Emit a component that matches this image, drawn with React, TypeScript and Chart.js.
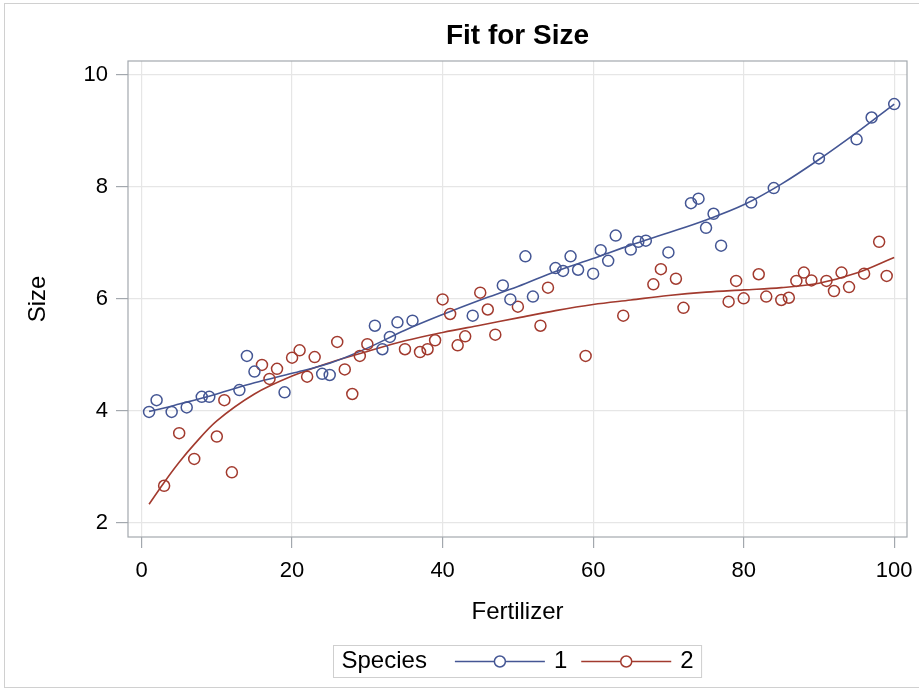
import React, { useEffect, useRef } from 'react';
import { Chart, registerables } from 'chart.js';

Chart.register(...registerables);

const FONT = '"Liberation Sans", Arial, Helvetica, sans-serif';
const BLUE = '#445694';
const RED = '#A23A2E';

const chartTitle = 'Fit for Size';
const xTitle = 'Fertilizer';
const yTitle = 'Size';
const legendTitle = 'Species';
const seriesNames = ['1', '2'];

const xTicks = [0, 20, 40, 60, 80, 100];
const yTicks = [2, 4, 6, 8, 10];

// Species 1 observations
const blueX = [1, 2, 4, 6, 8, 9, 13, 14, 15, 19, 24, 25, 31, 32, 33, 34, 36, 44, 48, 49, 51, 52, 55, 56, 57, 58, 60, 61, 62, 63, 65, 66, 67, 70, 73, 74, 75, 76, 77, 81, 84, 90, 95, 97, 100];
const blueY = [3.98, 4.19, 3.98, 4.06, 4.25, 4.25, 4.37, 4.98, 4.70, 4.33, 4.66, 4.64, 5.52, 5.10, 5.32, 5.58, 5.61, 5.70, 6.24, 5.99, 6.76, 6.04, 6.55, 6.50, 6.76, 6.52, 6.45, 6.87, 6.68, 7.13, 6.88, 7.02, 7.04, 6.83, 7.71, 7.79, 7.27, 7.52, 6.95, 7.72, 7.98, 8.51, 8.85, 9.24, 9.48];

// Species 2 observations
const redX = [3, 5, 7, 10, 11, 12, 16, 17, 18, 20, 21, 22, 23, 26, 27, 28, 29, 30, 35, 37, 38, 39, 40, 41, 42, 43, 45, 46, 47, 50, 53, 54, 59, 64, 68, 69, 71, 72, 78, 79, 80, 82, 83, 85, 86, 87, 88, 89, 91, 92, 93, 94, 96, 98, 99];
const redY = [2.66, 3.60, 3.14, 3.54, 4.19, 2.90, 4.82, 4.57, 4.75, 4.95, 5.08, 4.61, 4.96, 5.23, 4.74, 4.30, 4.98, 5.19, 5.10, 5.05, 5.10, 5.26, 5.99, 5.73, 5.17, 5.33, 6.11, 5.81, 5.36, 5.86, 5.52, 6.20, 4.98, 5.70, 6.26, 6.53, 6.36, 5.84, 5.95, 6.32, 6.01, 6.44, 6.04, 5.98, 6.02, 6.32, 6.47, 6.33, 6.32, 6.14, 6.47, 6.21, 6.45, 7.02, 6.41];

// Fitted curves
const fitX = [1, 3, 5, 7, 10, 15, 20, 25, 30, 35, 40, 45, 50, 55, 60, 65, 70, 75, 80, 85, 90, 95, 100];
const blueFit = [3.99, 4.05, 4.12, 4.19, 4.30, 4.50, 4.67, 4.85, 5.12, 5.44, 5.72, 5.98, 6.22, 6.49, 6.72, 6.96, 7.18, 7.41, 7.68, 8.05, 8.49, 8.97, 9.48];
const redFit = [2.33, 2.72, 3.08, 3.40, 3.82, 4.30, 4.62, 4.86, 5.06, 5.25, 5.40, 5.53, 5.66, 5.79, 5.90, 5.98, 6.06, 6.12, 6.16, 6.20, 6.28, 6.46, 6.74];

const toPts = (xs: number[], ys: number[]) => xs.map((x, i) => ({ x, y: ys[i] }));

const framePlugin = {
  id: 'framePlugin',
  afterDatasetsDraw(chart: any) {
    const { ctx, chartArea: ca } = chart;
    ctx.save();
    ctx.strokeStyle = '#A3A8AE';
    ctx.lineWidth = 1.2;
    ctx.strokeRect(ca.left, ca.top, ca.right - ca.left, ca.bottom - ca.top);
    ctx.restore();
  },
  afterDraw(chart: any) {
    const { ctx, chartArea: ca } = chart;
    ctx.save();
    // outer border
    ctx.strokeStyle = '#D0D0D0';
    ctx.lineWidth = 1;
    ctx.strokeRect(4.5, 3.5, 960, 684);

    const cx = (ca.left + ca.right) / 2;

    // title, centred over the plot area
    ctx.font = `bold 28px ${FONT}`;
    ctx.fillStyle = '#000';
    ctx.textAlign = 'center';
    ctx.textBaseline = 'middle';
    ctx.fillText(chartTitle, cx, ca.top - 25);

    // legend
    ctx.textAlign = 'left';
    ctx.font = `24px ${FONT}`;
    const pad = 8, gapTitle = 28, lineLen = 90, gapText = 9, gapItem = 14;
    const wTitle = ctx.measureText(legendTitle).width;
    const colors = [BLUE, RED];
    let total = pad + wTitle + pad;
    seriesNames.forEach((n, i) => {
      total += (i === 0 ? gapTitle : gapItem) + lineLen + gapText + ctx.measureText(n).width;
    });
    const left = Math.round(cx - total / 2) + 0.5;
    const top = ca.bottom + 108.5;
    const h = 32;
    const cy = top + h / 2;
    ctx.strokeStyle = '#CFCFCF';
    ctx.lineWidth = 1;
    ctx.strokeRect(left, top, total, h);
    let x = left + pad;
    ctx.fillText(legendTitle, x, cy);
    x += wTitle;
    seriesNames.forEach((n, i) => {
      x += i === 0 ? gapTitle : gapItem;
      ctx.strokeStyle = colors[i];
      ctx.lineWidth = 1.5;
      ctx.beginPath();
      ctx.moveTo(x, cy);
      ctx.lineTo(x + lineLen, cy);
      ctx.stroke();
      ctx.beginPath();
      ctx.fillStyle = '#fff';
      ctx.arc(x + lineLen / 2, cy, 5.5, 0, Math.PI * 2);
      ctx.fill();
      ctx.stroke();
      x += lineLen + gapText;
      ctx.fillStyle = '#000';
      ctx.fillText(n, x, cy);
      x += ctx.measureText(n).width;
    });
    ctx.restore();
  },
};

export default function App() {
  const ref = useRef<HTMLCanvasElement>(null);
  useEffect(() => {
    if (!ref.current) return;
    const pointDs = (label: string, xs: number[], ys: number[], color: string) => ({
      label,
      data: toPts(xs, ys),
      showLine: false,
      pointRadius: 5.5,
      pointHoverRadius: 5.5,
      pointBorderWidth: 1.5,
      borderColor: color,
      backgroundColor: 'rgba(0,0,0,0)',
      pointBackgroundColor: 'rgba(0,0,0,0)',
      pointBorderColor: color,
      order: 1,
    });
    const fitDs = (label: string, ys: number[], color: string) => ({
      label,
      data: toPts(fitX, ys),
      showLine: true,
      pointRadius: 0,
      borderColor: color,
      borderWidth: 1.6,
      tension: 0.35,
      fill: false,
      order: 2,
    });
    const chart = new Chart(ref.current, {
      type: 'scatter',
      data: {
        datasets: [
          fitDs('fit1', blueFit, BLUE),
          fitDs('fit2', redFit, RED),
          pointDs(seriesNames[0], blueX, blueY, BLUE),
          pointDs(seriesNames[1], redX, redY, RED),
        ] as any,
      },
      options: {
        animation: false,
        responsive: false,
        maintainAspectRatio: false,
        layout: { padding: { left: 0, right: 12, top: 61, bottom: 63 } },
        plugins: {
          legend: { display: false },
          tooltip: { enabled: false },
          title: { display: false },
        },
        scales: {
          x: {
            type: 'linear',
            min: -1.8,
            max: 101.7,
            afterBuildTicks: (s: any) => { s.ticks = xTicks.map((v) => ({ value: v })); },
            afterFit: (s: any) => { s.height = 91; s.paddingLeft = 0; s.paddingRight = 0; },
            grid: { color: '#E6E6E6', lineWidth: 1.2, tickColor: '#A3A8AE', tickLength: 11, drawTicks: true },
            border: { display: false },
            ticks: { color: '#000', font: { family: FONT, size: 22 }, padding: 10, maxRotation: 0, autoSkip: false },
            title: { display: true, text: xTitle, color: '#000', font: { family: FONT, size: 24 }, padding: { top: 0, bottom: 1.6 } },
          },
          y: {
            type: 'linear',
            min: 1.745,
            max: 10.25,
            afterBuildTicks: (s: any) => { s.ticks = yTicks.map((v) => ({ value: v })); },
            afterFit: (s: any) => { s.width = 128; s.paddingTop = 0; s.paddingBottom = 0; },
            grid: { color: '#E6E6E6', lineWidth: 1.2, tickColor: '#A3A8AE', tickLength: 12, drawTicks: true },
            border: { display: false },
            ticks: { color: '#000', font: { family: FONT, size: 22 }, padding: 8, autoSkip: false },
            title: { display: true, text: yTitle, color: '#000', font: { family: FONT, size: 24 }, padding: { top: 23.6, bottom: 0 } },
          },
        },
      } as any,
      plugins: [framePlugin],
    });
    return () => chart.destroy();
  }, []);
  return (
    <div style={{ position: 'fixed', left: 0, top: 0, width: 919, height: 691, background: '#fff' }}>
      <canvas ref={ref} width={919} height={691} style={{ display: 'block', width: 919, height: 691 }} />
    </div>
  );
}
